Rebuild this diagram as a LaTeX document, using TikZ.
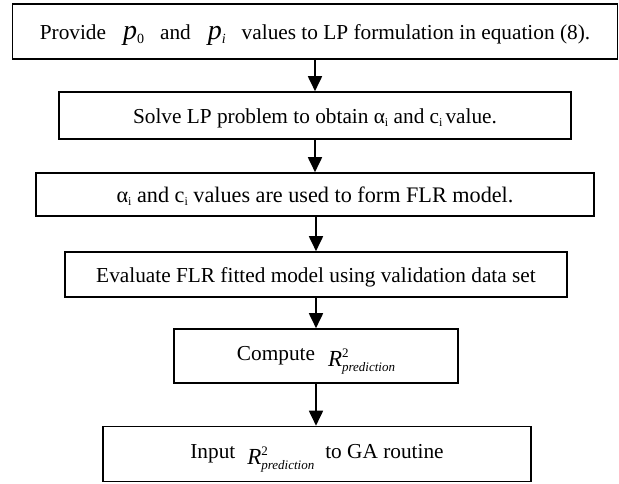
\documentclass[tikz,border=0pt]{standalone}
\usepackage{fontspec}
\setmainfont{Liberation Serif}
\usetikzlibrary{arrows.meta}
\newcommand\myRpred{\raisebox{-5.5pt}{\fontsize{23}{26}\selectfont\itshape R}\makebox[0pt][l]{\raisebox{3.5pt}{\fontsize{13}{15}\selectfont 2}}\raisebox{-10.5pt}{\fontsize{13}{15}\selectfont\itshape prediction}}
\newcommand\myvar[2]{{\fontsize{28}{30}\selectfont\itshape #1}\raisebox{-4pt}{\fontsize{14}{16}\selectfont\ifx0#2\upshape\else\itshape\fi #2}}
\newcommand\mysub[1]{\raisebox{-2.5pt}{\fontsize{12}{14}\selectfont #1}}
\tikzset{
  stepbox/.style={draw=black, line width=1.6pt, rectangle, inner sep=0pt,
    align=center, text height=16pt, text depth=0pt,
    font=\fontsize{21.3}{25}\selectfont},
  eqbox/.style={stepbox, text height=9pt, text depth=0pt},
  arr/.style={line width=1.8pt, -{Triangle[width=14pt,length=15pt]}}
}
\begin{document}
\begin{tikzpicture}[x=1pt,y=-1pt]
\useasboundingbox (0,0) rectangle (619,483);
\node[stepbox, minimum width=605pt, minimum height=55pt] (b1) at (315,31.5)
  {Provide\hspace{17pt}\myvar{p}{0}\hspace{16pt}and\hspace{17pt}\myvar{p}{i}\hspace{16pt}values to LP formulation in equation (8).};
\node[stepbox, minimum width=512pt, minimum height=47pt] (b2) at (315,115.5)
  {Solve LP problem to obtain α\mysub{i} and c\mysub{i}\hspace{3pt}value.};
\node[stepbox, minimum width=558pt, minimum height=43pt, font=\fontsize{22.2}{26}\selectfont] (b3) at (315,194.5)
  {α\mysub{i} and c\mysub{i} values are used to form FLR model.};
\node[stepbox, minimum width=502pt, minimum height=45pt] (b4) at (316,274.5)
  {Evaluate FLR fitted model using validation data set};
\node[eqbox, minimum width=284pt, minimum height=54pt] (b5) at (316,356)
  {Compute\hspace{13pt}\myRpred};
\node[eqbox, minimum width=428pt, minimum height=55pt] (b6) at (317,454)
  {Input\hspace{12pt}\myRpred\hspace{11pt}to GA routine};
\draw[arr] (b1.south) -- (b1.south |- b2.north);
\draw[arr] (b2.south) -- (b2.south |- b3.north);
\draw[arr] (b3.south -| b4.north) -- (b4.north);
\draw[arr] (b4.south) -- (b4.south |- b5.north);
\draw[arr] (b5.south) -- (b5.south |- b6.north);
\end{tikzpicture}
\end{document}
